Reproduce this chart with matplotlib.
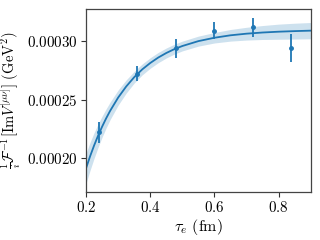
import matplotlib
matplotlib.use("Agg")
import matplotlib.pyplot as plt
from matplotlib.ticker import FormatStrFormatter, FixedLocator

plt.rcParams['mathtext.fontset'] = 'cm'
plt.rcParams['font.family'] = 'serif'
plt.rcParams['font.serif'] = ['cmr10', 'DejaVu Serif']
plt.rcParams['axes.formatter.use_mathtext'] = True

# data points
tau = [0.24, 0.36, 0.48, 0.60, 0.72, 0.84]
val = [0.0002218, 0.0002723, 0.0002940, 0.0003090, 0.0003123, 0.0002940]
err = [0.0000089, 0.0000066, 0.0000082, 0.0000073, 0.0000082, 0.0000120]

# fit curve
fit_x = [0.20, 0.2125, 0.225, 0.2375, 0.25, 0.2625, 0.275, 0.30, 0.325, 0.35,
         0.375, 0.40, 0.425, 0.45, 0.475, 0.50, 0.55, 0.60, 0.65, 0.70, 0.75,
         0.80, 0.85, 0.90]
fit_y = [0.0001910, 0.0002012, 0.0002105, 0.0002190, 0.0002267, 0.0002338,
         0.0002403, 0.0002517, 0.0002612, 0.0002692, 0.0002759, 0.0002814,
         0.0002861, 0.0002900, 0.0002933, 0.0002960, 0.0003002, 0.0003031,
         0.0003052, 0.0003066, 0.0003076, 0.0003083, 0.0003088, 0.0003092]
fit_e = [13e-6, 12e-6, 11e-6, 10e-6, 9e-6, 8.2e-6, 7.5e-6, 6.5e-6, 5.7e-6,
         5e-6, 4.7e-6, 4.5e-6, 4.4e-6, 4.3e-6, 4.25e-6, 4.2e-6, 4.3e-6,
         4.5e-6, 5e-6, 5.5e-6, 6e-6, 6.5e-6, 6.8e-6, 7e-6]

xticks = [0.2, 0.4, 0.6, 0.8]
yticks = [0.00020, 0.00025, 0.00030]

color = '#1f77b4'
fig = plt.figure(figsize=(3.2, 2.4), dpi=100)
ax = fig.add_axes([0.269, 0.2, 0.702, 0.761])

lo = [y - e for y, e in zip(fit_y, fit_e)]
hi = [y + e for y, e in zip(fit_y, fit_e)]
ax.fill_between(fit_x, lo, hi, color=color, alpha=0.22, linewidth=0)
ax.plot(fit_x, fit_y, color=color, lw=1.3)
ax.errorbar(tau, val, yerr=err, fmt='o', color=color, ms=2.5, elinewidth=1.3, capsize=0)

ax.set_xlim(0.2, 0.9)
ax.set_ylim(0.0001705, 0.0003275)
ax.xaxis.set_major_locator(FixedLocator(xticks))
ax.yaxis.set_major_locator(FixedLocator(yticks))
ax.xaxis.set_major_formatter(FormatStrFormatter('$%.1f$'))
ax.yaxis.set_major_formatter(FormatStrFormatter('$%.5f$'))
ax.tick_params(labelsize=10.8, length=3.5, width=0.8, color='#333333', pad=2.5)
for s in ax.spines.values():
    s.set_color('#444444')
    s.set_linewidth(0.9)

ax.set_xlabel(r'$\tau_e\ (\mathrm{fm})$', fontsize=11.5, labelpad=1)
ax.set_ylabel(r'$\frac{1}{i}\mathcal{F}^{-1}[\mathrm{Im}V^{[\mu\nu]}]\ (\mathrm{GeV}^2)$',
              fontsize=10.5, labelpad=2)
ax.yaxis.set_label_coords(-0.275, 0.5)

fig.savefig('out.png', dpi=100)
